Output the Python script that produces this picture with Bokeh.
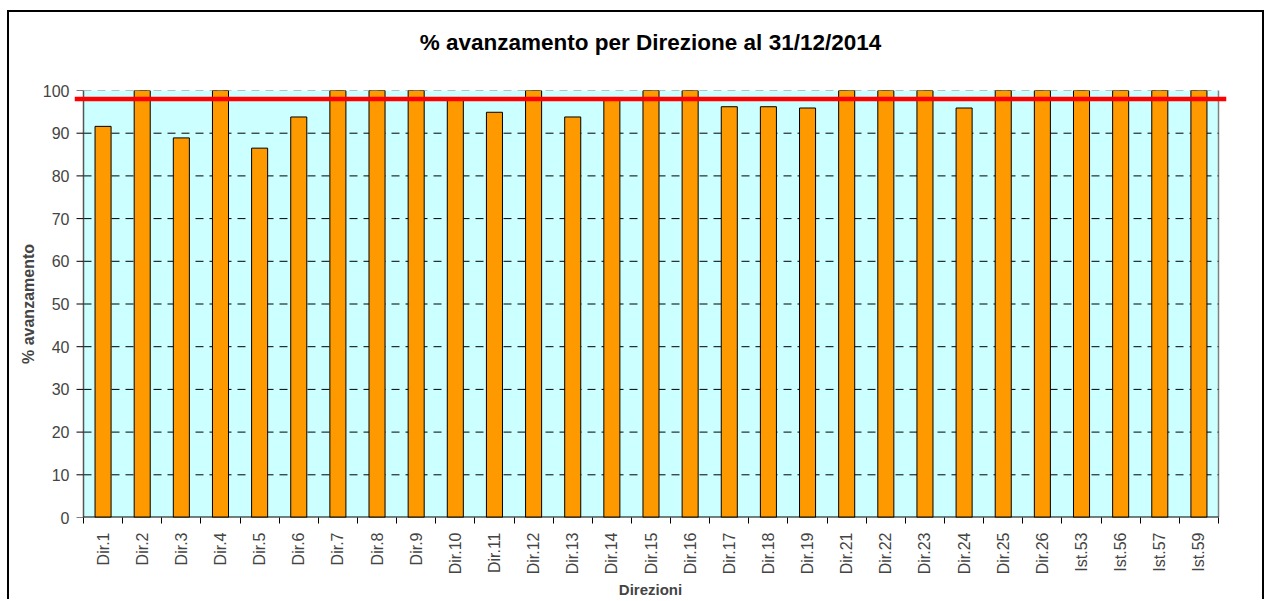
import math
from bokeh.plotting import figure
from bokeh.models import (ColumnDataSource, FixedTicker, Title, Range1d, Span)
from bokeh.embed import file_html
from bokeh.resources import INLINE

# --- data -------------------------------------------------------------
direzioni = ["Dir.1", "Dir.2", "Dir.3", "Dir.4", "Dir.5", "Dir.6", "Dir.7",
             "Dir.8", "Dir.9", "Dir.10", "Dir.11", "Dir.12", "Dir.13",
             "Dir.14", "Dir.15", "Dir.16", "Dir.17", "Dir.18", "Dir.19",
             "Dir.21", "Dir.22", "Dir.23", "Dir.24", "Dir.25", "Dir.26",
             "Ist.53", "Ist.56", "Ist.57", "Ist.59"]
avanzamento = [91.6, 100, 88.9, 100, 86.5, 93.8, 100,
               100, 100, 98.3, 94.9, 100, 93.8,
               98.3, 100, 100, 96.2, 96.2, 95.9,
               100, 100, 100, 95.9, 100, 100,
               100, 100, 100, 100]
obiettivo = 98
y_ticks = [0, 10, 20, 30, 40, 50, 60, 70, 80, 90, 100]

FONT = "Liberation Sans"

# --- layout (pixels, relative to the canvas) ----------------------------
W, H = 1257, 589
FRAME_L, FRAME_R = 65, 1217        # frame spans a bit wider than the bars area
AREA_L, AREA_R = 74, 1209          # cyan plotting area
n = len(direzioni)
px_per_cat = (AREA_R - AREA_L) / n
x_start = 0.5 - (AREA_L - FRAME_L) / px_per_cat
x_end = n + 0.5 + (FRAME_R - AREA_R) / px_per_cat
tick_len = 7 / px_per_cat

pos = list(range(1, n + 1))
src = ColumnDataSource(dict(x=pos, top=avanzamento, name=direzioni))
grid_y = y_ticks[1:]
grid_src = ColumnDataSource(dict(
    y=grid_y, color=["#808080" if v == y_ticks[-1] else "black" for v in grid_y]))
tick_src = ColumnDataSource(dict(y=y_ticks))

p = figure(width=W, height=H, output_backend="svg", toolbar_location=None,
           x_range=Range1d(x_start, x_end), y_range=Range1d(0, 100),
           min_border_left=FRAME_L, min_border_right=W - FRAME_R,
           min_border_top=78, min_border_bottom=84)
p.styles = {"margin-left": "7px", "margin-top": "10px",
            "border-left": "2px solid black", "border-top": "2px solid black",
            "border-right": "2px solid black"}

p.background_fill_color = "white"
p.border_fill_color = "white"
p.outline_line_color = None
p.grid.visible = False

# spacer + title
p.add_layout(Title(text=" ", text_font_size="17px"), "above")
p.add_layout(Title(text="% avanzamento per Direzione al 31/12/2014",
                   align="center", text_font=FONT, text_font_size="22.5px",
                   text_font_style="bold", text_color="black"), "above")
p.title.visible = False

# plotting area
p.quad(left=[0.5], right=[n + 0.5], bottom=[0], top=[100],
       fill_color="#CCFFFF", line_color=None)
p.segment(x0=n + 0.5, x1=n + 0.5, y0=0, y1=100, line_color="#808080",
          line_width=1.5)

# dashed horizontal grid
p.segment(x0=0.5, x1=n + 0.5, y0="y", y1="y", source=grid_src,
          line_color="color", line_dash="8 6", line_width=1)

# bars
p.vbar(x="x", top="top", width=0.41, bottom=0, source=src,
       fill_color="#FF9900", line_color="black", line_width=1)

# target line at 98 %
p.add_layout(Span(location=obiettivo, dimension="width", line_color="#FF0000",
                  line_width=4.5))

# axis lines and y ticks
p.segment(x0=0.5, x1=0.5, y0=0, y1=100, line_color="#555555", line_width=1.5)
p.segment(x0=0.5 - tick_len, x1=0.5, y0="y", y1="y", source=tick_src,
          line_color="black", line_width=1)
p.segment(x0=0.5, x1=n + 0.5, y0=0, y1=0, line_color="black", line_width=2)

# y axis
ya = p.yaxis[0]
ya.ticker = FixedTicker(ticks=y_ticks)
ya.axis_line_color = None
ya.major_tick_line_color = None
ya.minor_tick_line_color = None
ya.major_tick_out = 0
ya.major_tick_in = 0
ya.minor_tick_out = 0
ya.minor_tick_in = 0
ya.major_label_text_font = FONT
ya.major_label_text_font_size = "16px"
ya.major_label_standoff = 5
ya.axis_label = "% avanzamento"
ya.axis_label_text_font = FONT
ya.axis_label_text_font_size = "16px"
ya.axis_label_text_font_style = "bold"
ya.axis_label_standoff = 3

# x axis: category labels at centres, ticks at boundaries
xa = p.xaxis[0]
bounds = [i + 0.5 for i in range(0, n + 1)]
xa.ticker = FixedTicker(ticks=pos, minor_ticks=bounds)
xa.major_label_overrides = {i: nm for i, nm in zip(pos, direzioni)}
xa.major_label_orientation = math.pi / 2
xa.major_tick_out = 0
xa.major_tick_in = 0
xa.minor_tick_out = 6
xa.minor_tick_in = 0
xa.minor_tick_line_color = "black"
xa.axis_line_color = None
xa.major_label_text_font = FONT
xa.major_label_text_font_size = "16px"
xa.major_label_standoff = 9
xa.axis_label = "Direzioni"
xa.axis_label_text_font = FONT
xa.axis_label_text_font_size = "15px"
xa.axis_label_text_font_style = "bold"
xa.axis_label_standoff = 4

open("out.html", "w").write(file_html(p, INLINE))
